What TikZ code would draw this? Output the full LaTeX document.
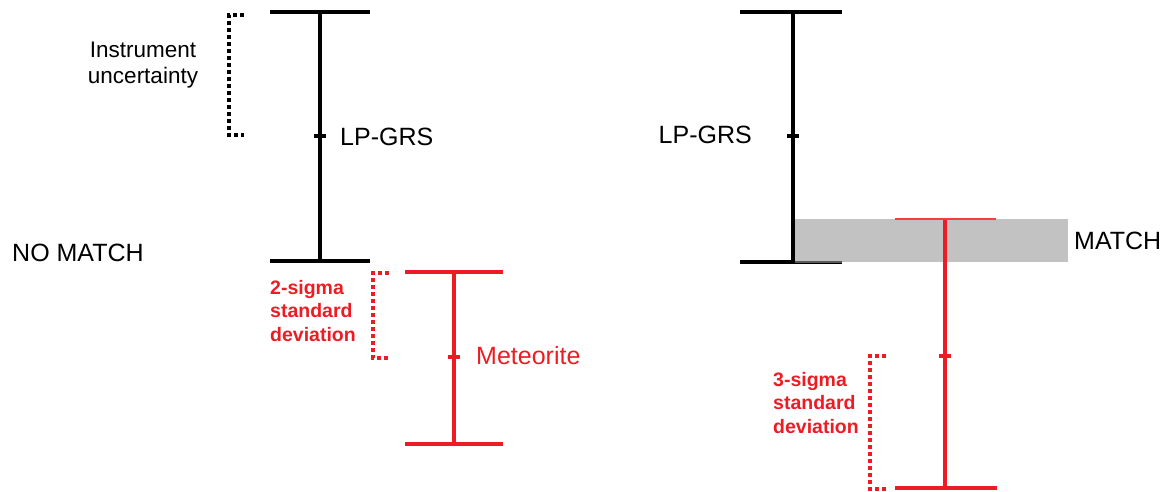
\documentclass[tikz,border=0pt]{standalone}
\usepackage{fontspec}
\setmainfont{Liberation Sans}
\definecolor{myred}{RGB}{237,28,36}
\definecolor{band}{RGB}{194,194,194}
\begin{document}
\begin{tikzpicture}[x=1pt,y=-1pt,
  bar/.style={line width=3.5pt},
  dots/.style={line width=3.3pt,dash pattern=on 4pt off 3pt},
  big/.style={font=\fontsize{25}{30}\selectfont,inner sep=0pt},
  note/.style={font=\fontsize{22.5}{26}\selectfont,inner sep=0pt,align=center},
  rednote/.style={font=\fontsize{19.5}{23.5}\selectfont\bfseries,inner sep=0pt,align=left,text=myred}]
\useasboundingbox (0,0) rectangle (1169,491);
% left black error bar
\coordinate (lt) at (320,12);
\coordinate (lb) at (320,261);
\draw[bar] (270,12) -- (370,12);
\draw[bar] (270,261) -- (370,261);
\draw[bar] (lt) -- (lb);
\draw[bar] (314,136) -- (326,136);
\draw[dots] (244,15) -- (229,15) -- (229,135) -- (244,135);
\node[note] (instr) at (143,65) {Instrument\\uncertainty};
\node[big,anchor=west] (lp1) at (340,137) {LP-GRS};
\node[big,anchor=west] (nom) at (12,253) {NO MATCH};
% left red error bar
\draw[bar,myred] (405,272) -- (503,272);
\draw[bar,myred] (405,444) -- (503,444);
\draw[bar,myred] (454,272) -- (454,444);
\draw[bar,myred] (448,357) -- (460,357);
\draw[dots,myred] (389,273) -- (373,273) -- (373,358) -- (389,358);
\node[rednote,anchor=north west] (s2) at (270,280) {2-sigma\\standard\\deviation};
\node[big,anchor=west,text=myred] (met) at (476,356) {Meteorite};
% right black error bar
\draw[bar] (740,12) -- (842,12);
\draw[bar] (740,262) -- (842,262);
\draw[bar] (793,12) -- (793,262);
\draw[bar] (787,136) -- (799,136);
\node[big,anchor=east] (lp2) at (752,135) {LP-GRS};
% match band
\fill[band] (795,219) rectangle (1068,262);
\draw[line width=1.2pt,black!65] (795,262) -- (842,262);
\node[big,anchor=west] (mat) at (1074,241) {MATCH};
% right red error bar
\draw[line width=2.2pt,myred!85] (895,219) -- (996,219);
\draw[bar,myred] (895,488) -- (997,488);
\draw[bar,myred] (945,220) -- (945,488);
\draw[bar,myred] (939,356) -- (951,356);
\draw[dots,myred] (886,356) -- (870,356) -- (870,489) -- (886,489);
\node[rednote,anchor=north west] (s3) at (773,372) {3-sigma\\standard\\deviation};
\end{tikzpicture}
\end{document}
